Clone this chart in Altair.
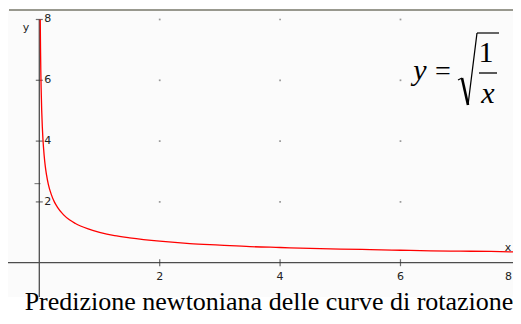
import altair as alt
import pandas as pd

# curve values (y = sqrt(1/x))
curve_x = [0.0156, 0.02, 0.025, 0.03, 0.04, 0.05, 0.06, 0.08, 0.1, 0.12, 0.15, 0.2, 0.25, 0.3,
           0.4, 0.5, 0.6, 0.8, 1.0, 1.25, 1.5, 2.0, 2.5, 3.0, 3.5, 4.0, 4.5, 5.0, 5.5, 6.0,
           6.5, 7.0, 7.5, 8.0]
curve_y = [8.0, 7.07, 6.32, 5.77, 5.0, 4.47, 4.08, 3.54, 3.16, 2.89, 2.58, 2.24, 2.0, 1.83,
           1.58, 1.41, 1.29, 1.12, 1.0, 0.89, 0.82, 0.71, 0.63, 0.58, 0.53, 0.5, 0.47, 0.45,
           0.43, 0.41, 0.39, 0.38, 0.37, 0.35]

x_ticks = [2, 4, 6, 8]
x_tick_labels = ["2", "4", "6"]
edge_label = "8"
y_ticks = [2, 4, 6, 8]
y_tick_labels = ["2", "4", "6", "8"]
grid_x = [2, 4, 6]
grid_y = [2, 4, 6, 8]
title_text = "Predizione newtoniana delle curve di rotazione"

W, H = 505, 308
xs = alt.Scale(domain=[-0.520, 7.869], nice=False, zero=False)
ys = alt.Scale(domain=[-1.753, 8.378], nice=False, zero=False)

curve_df = pd.DataFrame({"x": curve_x, "y": curve_y})
xt_df = pd.DataFrame({"x": x_ticks, "y": [0] * len(x_ticks)})
xl_df = pd.DataFrame({"x": x_ticks[:3], "label": x_tick_labels, "y": [0] * 3})
yt_df = pd.DataFrame({"y": y_ticks, "label": y_tick_labels, "x": [0] * len(y_ticks)})
grid_df = pd.DataFrame([{"x": gx, "y": gy} for gx in grid_x for gy in grid_y])

base = alt.Chart(pd.DataFrame({"a": [0]}))

panel = base.mark_rect(color="#fbfbfb").encode(
    x=alt.value(0), x2=alt.value(W), y=alt.value(2), y2=alt.value(289))
top_border = base.mark_rule(color="#77776a", strokeWidth=1.5).encode(
    x=alt.value(1), x2=alt.value(W), y=alt.value(2))

grid = alt.Chart(grid_df).mark_square(size=3, color="#9a9a9a", opacity=1).encode(
    x=alt.X("x:Q", scale=xs, axis=None), y=alt.Y("y:Q", scale=ys, axis=None))

x_axis = base.mark_rule(color="#4d4d4d", strokeWidth=1.3).encode(
    x=alt.value(0), x2=alt.value(W), y=alt.Y(datum=0, scale=ys, axis=None))
y_axis = base.mark_rule(color="#4d4d4d", strokeWidth=1.3).encode(
    x=alt.X(datum=0, scale=xs, axis=None), y=alt.Y(datum=8, scale=ys, axis=None),
    y2=alt.value(289))

x_tick_marks = alt.Chart(xt_df).mark_tick(orient="vertical", size=7, thickness=1.2,
                                          color="#333333").encode(
    x=alt.X("x:Q", scale=xs, axis=None), y=alt.Y("y:Q", scale=ys, axis=None))
y_tick_marks = alt.Chart(yt_df).mark_tick(orient="horizontal", size=7, thickness=1.2,
                                          color="#333333").encode(
    x=alt.X("x:Q", scale=xs, axis=None), y=alt.Y("y:Q", scale=ys, axis=None))

x_labels = alt.Chart(xl_df).mark_text(dy=14, baseline="middle", align="center",
                                      font="DejaVu Sans", fontSize=11, color="#222").encode(
    x=alt.X("x:Q", scale=xs, axis=None), y=alt.Y("y:Q", scale=ys, axis=None), text="label:N")
x_edge_label = base.mark_text(text=edge_label, dy=14, baseline="middle", align="right",
                              font="DejaVu Sans", fontSize=11, color="#222").encode(
    x=alt.value(W - 1), y=alt.Y(datum=0, scale=ys, axis=None))
y_labels = alt.Chart(yt_df).mark_text(dx=5, baseline="middle", align="left",
                                      font="DejaVu Sans", fontSize=11, color="#222").encode(
    x=alt.X("x:Q", scale=xs, axis=None), y=alt.Y("y:Q", scale=ys, axis=None), text="label:N")

axis_names = alt.Chart(pd.DataFrame({"t": ["y", "x"], "px": [18, 500], "py": [20, 240]})).mark_text(
    font="DejaVu Sans", fontSize=11, color="#222", baseline="middle", align="center").encode(
    x=alt.X("px:Q", scale=None), y=alt.Y("py:Q", scale=None), text="t:N")

stray = alt.Chart(pd.DataFrame({"x": [-0.03], "y": [2.6]})).mark_tick(
    orient="horizontal", size=6, thickness=1, color="#333").encode(
    x=alt.X("x:Q", scale=xs, axis=None), y=alt.Y("y:Q", scale=ys, axis=None))

curve = alt.Chart(curve_df).mark_line(color="#ff0000", strokeWidth=1.3, clip=True,
                                      interpolate="monotone").encode(
    x=alt.X("x:Q", scale=xs, axis=None), y=alt.Y("y:Q", scale=ys, axis=None), order="x:Q")

# formula y = sqrt(1/x)
serif = "Liberation Serif"
f_y = base.mark_text(text="y", font=serif, fontStyle="italic", fontSize=30, align="center",
                     baseline="alphabetic", color="#000").encode(x=alt.value(412), y=alt.value(72))
f_eq = base.mark_text(text="=", font=serif, fontSize=28, align="center",
                      baseline="alphabetic", color="#000").encode(x=alt.value(435), y=alt.value(72))
f_1 = base.mark_text(text="1", font=serif, fontSize=30, align="center",
                     baseline="alphabetic", color="#000").encode(x=alt.value(478), y=alt.value(54))
f_x = base.mark_text(text="x", font=serif, fontStyle="italic", fontSize=30, align="center",
                     baseline="alphabetic", color="#000").encode(x=alt.value(480), y=alt.value(95))
frac_bar = base.mark_rule(color="#000", strokeWidth=1.3).encode(
    x=alt.value(471), x2=alt.value(489), y=alt.value(65))
rad1 = base.mark_rule(color="#000", strokeWidth=1.2).encode(
    x=alt.value(450), x2=alt.value(454), y=alt.value(72), y2=alt.value(70))
rad2 = base.mark_rule(color="#000", strokeWidth=2.6).encode(
    x=alt.value(454), x2=alt.value(460), y=alt.value(70), y2=alt.value(97))
rad3 = base.mark_rule(color="#000", strokeWidth=1.2).encode(
    x=alt.value(460), x2=alt.value(469), y=alt.value(97), y2=alt.value(25))
rad4 = base.mark_rule(color="#000", strokeWidth=1.2).encode(
    x=alt.value(469), x2=alt.value(491), y=alt.value(25))

title = base.mark_text(text=title_text, font=serif, fontSize=26, align="center",
                       baseline="alphabetic", color="#000").encode(
    x=alt.value(261), y=alt.value(302))

chart = alt.layer(
    panel, top_border, grid, x_axis, y_axis, x_tick_marks, y_tick_marks, stray,
    x_labels, x_edge_label, y_labels, axis_names, curve,
    f_y, f_eq, f_1, f_x, frac_bar, rad1, rad2, rad3, rad4, title
).properties(width=W, height=H, padding=0, autosize=alt.AutoSizeParams(type="none"),
             background="#ffffff").configure_view(stroke=None)

chart.save("out.html", embed_options={"renderer": "svg", "actions": False})
